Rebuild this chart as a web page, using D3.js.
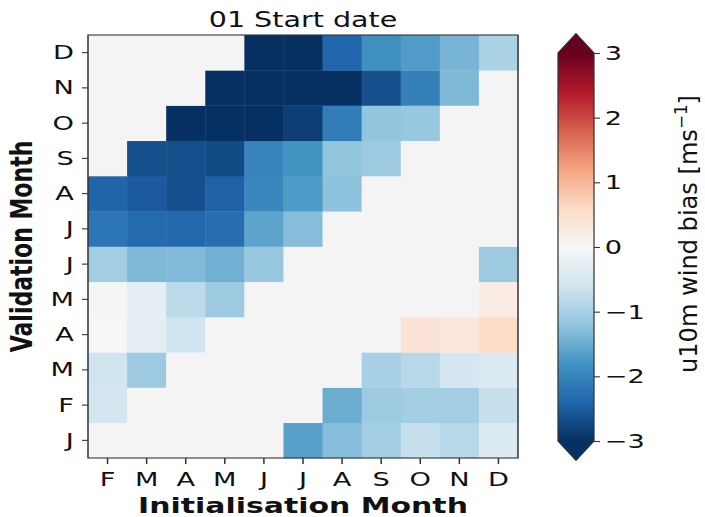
<!DOCTYPE html>
<html><head><meta charset="utf-8">
<script src="https://cdn.jsdelivr.net/npm/d3@7/dist/d3.min.js"></script>
<style>
body{margin:0;background:#fff}
svg{display:block}
text{font-family:"DejaVu Sans",sans-serif;fill:#111}
</style>
</head><body>
<svg id="chart" width="705" height="517"></svg>
<script>
// ---- data ----
const initMonths = ["F","M","A","M","J","J","A","S","O","N","D"];
const validMonths = ["J","F","M","A","M","J","J","A","S","O","N","D"]; // bottom to top
const colorbarTicks = [-3,-2,-1,0,1,2,3];
// bias per validation month (row), columns = initialisation months F..D; null = no data
const valJan = [null,null,null,null,null,-1.65,-1.3,-1.05,-0.7,-0.85,-0.45];
const valFeb = [-0.55,null,null,null,null,null,-1.5,-1.1,-1.05,-1.05,-0.7];
const valMar = [-0.6,-1.1,null,null,null,null,null,-1.0,-0.85,-0.55,-0.45];
const valApr = [0.02,-0.3,-0.6,null,null,null,null,null,0.4,0.35,0.6];
const valMay = [-0.05,-0.3,-0.8,-1.1,null,null,null,null,null,null,0.25];
const valJun = [-1.05,-1.35,-1.33,-1.45,-1.15,null,null,null,null,null,-1.1];
const valJul = [-2.2,-2.35,-2.38,-2.3,-1.6,-1.3,null,null,null,null,null];
const valAug = [-2.42,-2.53,-2.65,-2.45,-1.96,-1.71,-1.24,null,null,null,null];
const valSep = [null,-2.65,-2.65,-2.7,-2.0,-1.8,-1.2,-1.1,null,null,null];
const valOct = [null,null,-3.1,-3.1,-3.1,-2.85,-2.1,-1.2,-1.15,null,null];
const valNov = [null,null,null,-3.1,-3.1,-3.1,-3.2,-2.65,-2.05,-1.35,null];
const valDec = [null,null,null,null,-3.1,-3.1,-2.4,-1.85,-1.7,-1.4,-0.95];
const rows = [valJan,valFeb,valMar,valApr,valMay,valJun,valJul,valAug,valSep,valOct,valNov,valDec];

// ---- colour map (RdBu_r) ----
const rdbu = ["#053061","#2166ac","#4393c3","#92c5de","#d1e5f0","#f7f7f7","#fddbc7","#f4a582","#d6604d","#b2182b","#67001f"];
const color = d3.scaleLinear().domain(d3.range(11).map(i => -3 + i*0.6)).range(rdbu)
  .interpolate(d3.interpolateRgb).clamp(true);
const emptyFill = "#f4f4f4";

const SX = 1.36;
const svg = d3.select("#chart");
svg.append("rect").attr("width",705).attr("height",517).attr("fill","#fff");
const g = svg.append("g").attr("transform", `scale(${SX},1)`);

const plotL = 88/SX, plotR = 518/SX, plotT = 35, plotB = 458;
const x = d3.scaleBand().domain(d3.range(initMonths.length)).range([plotL, plotR]);
const y = d3.scaleBand().domain(d3.range(validMonths.length)).range([plotB, plotT]);

const cells = [];
rows.forEach((r, ri) => r.forEach((v, ci) => cells.push({ri, ci, v})));
g.append("g").selectAll("rect").data(cells).join("rect")
  .attr("x", d => x(d.ci)).attr("y", d => y(d.ri))
  .attr("width", x.bandwidth() + 0.3).attr("height", y.bandwidth() + 0.3)
  .attr("fill", d => d.v == null ? emptyFill : color(d.v));

g.append("rect").attr("x", plotL).attr("y", plotT).attr("width", plotR - plotL).attr("height", plotB - plotT)
  .attr("fill","none").attr("stroke","#333").attr("stroke-width",1.1);

const xAxis = g.append("g").attr("transform", `translate(0,${plotB})`)
  .call(d3.axisBottom(x).tickFormat(i => initMonths[i]).tickSize(6).tickPadding(8));
const yAxis = g.append("g").attr("transform", `translate(${plotL},0)`)
  .call(d3.axisLeft(y).tickFormat(i => validMonths[i]).tickSize(4.4).tickPadding(6));
[xAxis, yAxis].forEach(a => {
  a.select(".domain").remove();
  a.selectAll("line").attr("stroke","#333").attr("stroke-width",1.1);
  a.selectAll("text").attr("font-size",20).attr("font-family","DejaVu Sans").attr("fill","#111");
});

// title & axis labels
const cx = (plotL + plotR)/2;
g.append("text").attr("x", cx).attr("y", 27).attr("text-anchor","middle")
  .attr("font-size",21).text("01 Start date");
g.append("text").attr("x", cx).attr("y", 513).attr("text-anchor","middle")
  .attr("font-size",22).attr("font-weight","bold").text("Initialisation Month");
g.append("text").attr("transform", `translate(23.5,${(plotT+plotB)/2}) rotate(-90)`)
  .attr("text-anchor","middle").attr("font-size",22).attr("font-weight","bold").text("Validation Month");

// colorbar
const cbL = 558/SX, cbR = 594/SX, cbT = 53, cbB = 441, cbMid = (cbL+cbR)/2;
const cy = d3.scaleLinear().domain([-3,3]).range([cbB, cbT]);
const defs = svg.append("defs");
const grad = defs.append("linearGradient").attr("id","cbgrad")
  .attr("gradientUnits","userSpaceOnUse").attr("x1",0).attr("x2",0).attr("y1",cbB).attr("y2",cbT);
d3.range(0, 1.0001, 0.02).forEach(t => {
  grad.append("stop").attr("offset", t).attr("stop-color", color(-3 + 6*t));
});
g.append("rect").attr("x", cbL).attr("y", cbT).attr("width", cbR - cbL).attr("height", cbB - cbT)
  .attr("fill","url(#cbgrad)");
const ext = (cbB - cbT) * 0.05;
g.append("path").attr("d", `M${cbL},${cbT}L${cbMid},${cbT-ext}L${cbR},${cbT}Z`).attr("fill", color(3.5));
g.append("path").attr("d", `M${cbL},${cbB}L${cbMid},${cbB+ext}L${cbR},${cbB}Z`).attr("fill", color(-3.5));
g.append("path")
  .attr("d", `M${cbL},${cbB}L${cbL},${cbT}L${cbMid},${cbT-ext}L${cbR},${cbT}L${cbR},${cbB}L${cbMid},${cbB+ext}Z`)
  .attr("fill","none").attr("stroke","#333").attr("stroke-width",0.9);
const cbAxis = g.append("g").attr("transform", `translate(${cbR},0)`)
  .call(d3.axisRight(cy).tickValues(colorbarTicks).tickSize(4.4).tickPadding(3.5)
    .tickFormat(d => d < 0 ? "\u2212" + Math.abs(d) : String(d)));
cbAxis.select(".domain").remove();
cbAxis.selectAll("line").attr("stroke","#333").attr("stroke-width",1.1);
cbAxis.selectAll("text").attr("font-size",20).attr("font-family","DejaVu Sans").attr("fill","#111");

const cbLabel = g.append("text").attr("text-anchor","middle").attr("font-size",18);
cbLabel.append("tspan").text("u10m wind bias [ms");
cbLabel.append("tspan").attr("dy",-7.5).attr("font-size",12.5).text("\u22121");
cbLabel.append("tspan").attr("dy",7.5).text("]");
const len = cbLabel.node().getComputedTextLength();
cbLabel.attr("transform", `translate(512.3,234) rotate(-90) scale(${278/len},1)`);
</script>
</body></html>
